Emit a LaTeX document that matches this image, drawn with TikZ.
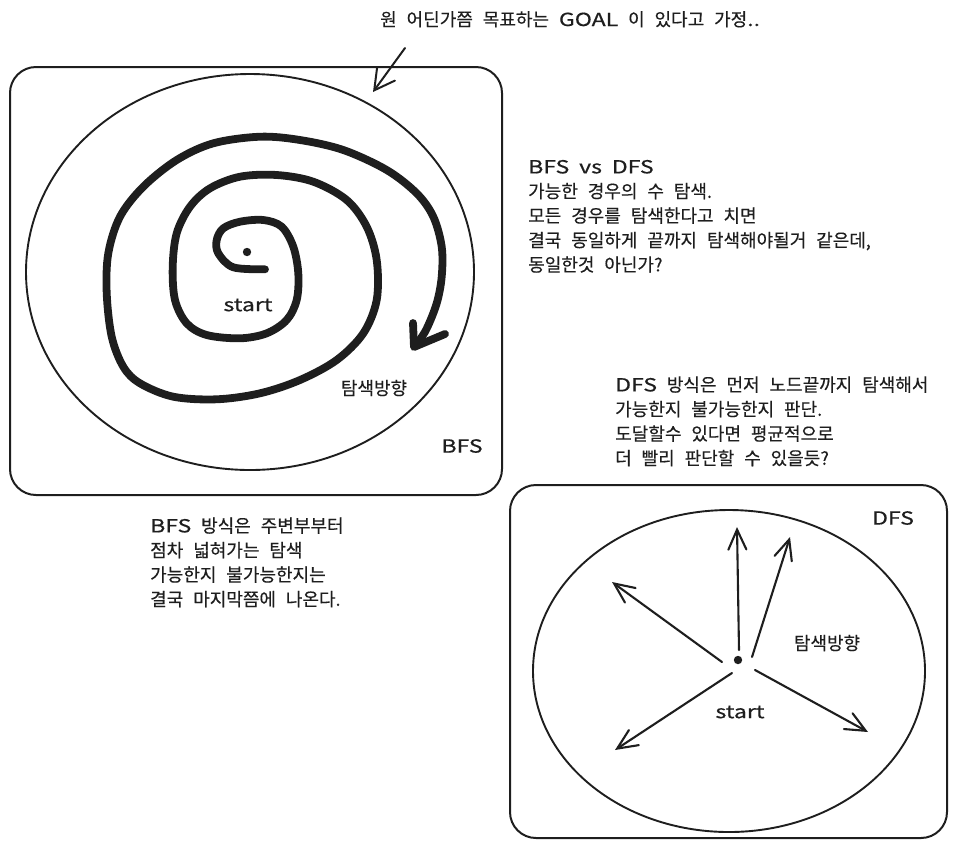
\documentclass[tikz,border=0pt]{standalone}
\usepackage{fontspec}
\setmainfont{Noto Sans CJK KR}[FakeBold=0.3]
\newfontfamily\latfont{Noto Sans CJK KR}[FakeStretch=1.28,FakeBold=0.6]
\newcommand\lat[1]{{\latfont #1}}
\newcommand\widespace{\spaceskip=0.55em plus 0.1em\relax}
\usetikzlibrary{arrows.meta}
\definecolor{ink}{HTML}{1E1E1E}
\begin{document}
\begin{tikzpicture}[x=1pt,y=-1pt,
  frame/.style={draw=ink, line width=2, rounded corners=26pt},
  ring/.style={draw=ink, line width=1.9},
  txt/.style={font=\fontsize{18}{24.5}\selectfont\widespace, text=ink, inner sep=0pt, align=left, anchor=north west},
  lbl/.style={font=\fontsize{18}{20}\selectfont\widespace, text=ink, inner sep=0pt},
  probe/.style={draw=ink, line width=2.1, line cap=round, -{Straight Barb[length=20pt,width=18pt,line cap=round]}},
  pointer/.style={draw=ink, line width=2, line cap=round, -{Straight Barb[length=20pt,width=22pt,line cap=round]}},
  trail/.style={draw=ink, line width=7.8, line cap=round, line join=round}
]
\useasboundingbox (0,0) rectangle (957,847);

% ---------- top note ----------
\node[lbl, anchor=base west] (goal) at (380,26) {원 어딘가쯤 목표하는 \lat{GOAL} 이 있다고 가정\lat{..}};
\coordinate (goalfrom) at (405,48);
\coordinate (goalto) at (373,92);
\draw[pointer] (goalfrom) -- (goalto);

% ---------- BFS panel ----------
\draw[frame] (10,67) rectangle (502,495);
\draw[ring] (250,272) ellipse [x radius=224pt, y radius=198pt];
\fill[ink] (247,252) circle (4.2pt);
\draw[trail] plot[smooth, tension=0.55] coordinates {
 (265.0,269.3) (233.3,267.3) (218.3,253.3) (216.7,240) (223.3,228.3) (240,221.7)
 (263.3,220) (281.7,226.7) (293.3,246.7) (298.3,273.3) (296.7,300) (286.7,320)
 (266.7,333.3) (240,338.3) (206.7,335) (186.7,323.3) (175,300) (172.7,266.7)
 (176.7,233.3) (190,206.7) (210,188.3) (240,176.7) (276.7,175) (313.3,181.7)
 (346.7,200) (366.7,226.7) (376.7,260) (376.7,300) (363.3,333.3) (336.7,360)
 (300,380) (260,393.3) (216.7,399.3) (173.3,396.7) (140,383.3) (123.3,366.7)
 (111.7,336.7) (106.7,293.3) (108.3,253.3) (120,216.7) (143.3,186.7) (176.7,160)
 (213.3,143.3) (260,136.7) (300,140) (343.3,150) (386.7,170) (416.7,193.3)
 (433.3,216.7) (441.7,246.7) (441.7,276.7) (436.7,303.3) (426,330) (415,346)};
\draw[trail] (413,323) -- (414,347) -- (445,334);
\node[lbl] (bfsstart) at (248,305) {\lat{start}};
\node[lbl] (bfsdir) at (374,388) {탐색방향};
\node[lbl] (bfstag) at (462,446) {\lat{BFS}};

% ---------- BFS vs DFS note ----------
\node[txt] (versus) at (528,156) {\strut\lat{BFS vs DFS}\\
가능한 경우의 수 탐색.\\
모든 경우를 탐색한다고 치면\\
결국 동일하게 끝까지 탐색해야될거 같은데,\\
동일한것 아닌가?};

% ---------- BFS note ----------
\node[txt] (bfsnote) at (150,515) {\strut\lat{BFS} 방식은 주변부부터\\
점차 넓혀가는 탐색\\
가능한지 불가능한지는\\
결국 마지막쯤에 나온다.};

% ---------- DFS note ----------
\node[txt] (dfsnote) at (615,374) {\strut\lat{DFS} 방식은 먼저 노드끝까지 탐색해서\\
가능한지 불가능한지 판단.\\
도달할수 있다면 평균적으로\\
더 빨리 판단할 수 있을듯?};

% ---------- DFS panel ----------
\draw[frame] (510,485) rectangle (947,838);
\draw[ring] (729,671) ellipse [x radius=196pt, y radius=161pt];
\fill[ink] (738,660) circle (4.2pt);
\coordinate (s1) at (739,650);  \coordinate (t1) at (737,527);
\coordinate (s2) at (752,657);  \coordinate (t2) at (790,537);
\coordinate (s3) at (722,662);  \coordinate (t3) at (612,582);
\coordinate (s4) at (732,673);  \coordinate (t4) at (615,750);
\coordinate (s5) at (755,670);  \coordinate (t5) at (868,732);
\draw[probe] (s1) -- (t1);
\draw[probe] (s2) -- (t2);
\draw[probe] (s3) -- (t3);
\draw[probe] (s4) -- (t4);
\draw[probe] (s5) -- (t5);
\node[lbl] (dfsdir) at (827,643) {탐색방향};
\node[lbl] (dfsstart) at (740,712) {\lat{start}};
\node[lbl] (dfstag) at (893,518) {\lat{DFS}};
\end{tikzpicture}
\end{document}
